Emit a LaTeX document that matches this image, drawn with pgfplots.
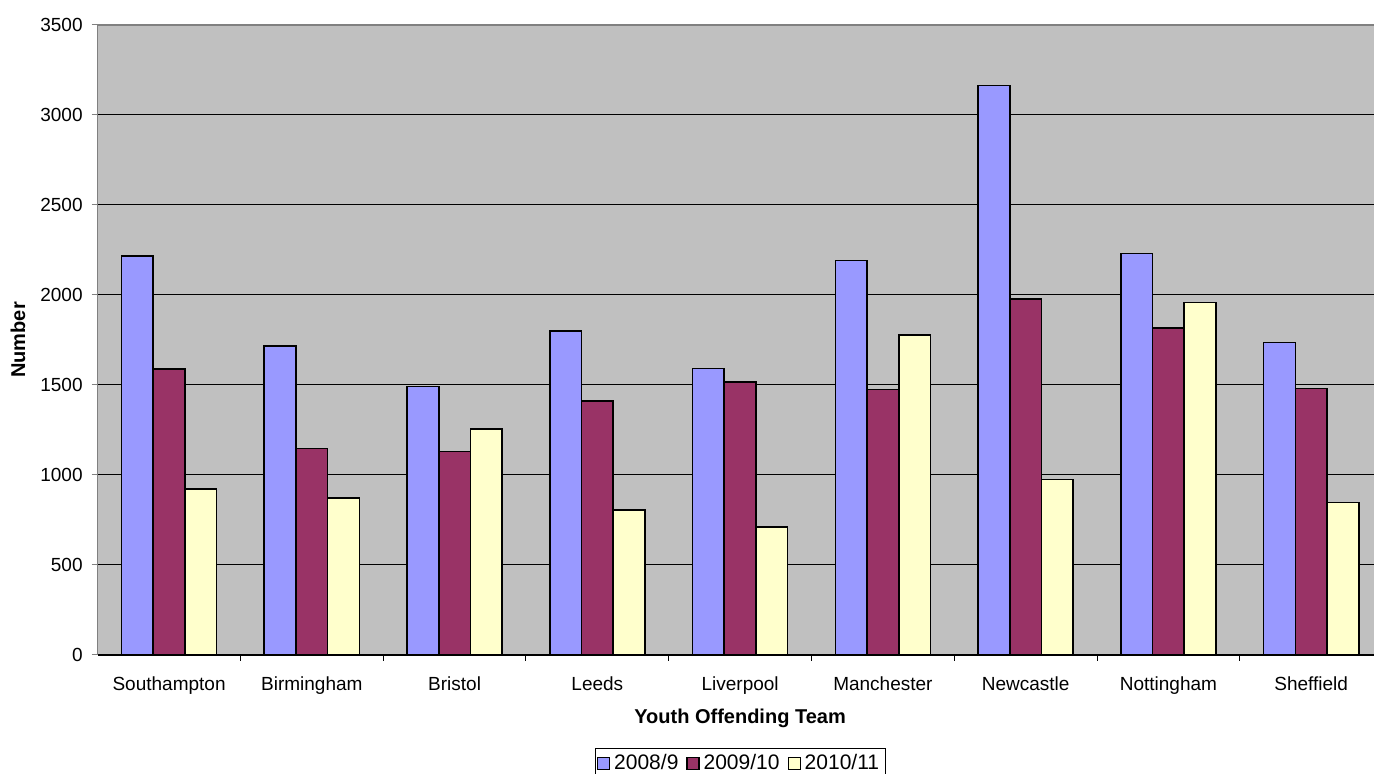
\documentclass[border=0pt]{standalone}
\usepackage{pgfplots}
\pgfplotsset{compat=1.18}
\usepackage{fontspec}
\setmainfont{Liberation Sans}

\definecolor{bgray}{HTML}{C0C0C0}
\definecolor{framegray}{HTML}{808080}
\definecolor{sblue}{HTML}{9999FF}
\definecolor{smaroon}{HTML}{993366}
\definecolor{syellow}{HTML}{FFFFCC}

\begin{document}
\begin{tikzpicture}
\path[use as bounding box] (-48.85pt,-59.5pt) rectangle (638.2pt,327.5pt);
\begin{axis}[
    scale only axis,
    width=638.2pt,
    height=315pt,
    ybar=0pt,
    bar width=15.85pt,
    xmin=-0.5, xmax=8.44,
    ymin=0, ymax=3500,
    ytick={0,500,...,3500},
    xtick={0,...,8},
    xticklabels={Southampton,Birmingham,Bristol,Leeds,Liverpool,Manchester,Newcastle,Nottingham,Sheffield},
    minor xtick={0.5,1.5,...,7.5},
    major x tick style={draw=none},
    minor x tick style={black, line width=0.5pt},
    minor tick length=3pt,
    major tick length=3pt,
    tick align=outside,
    y tick style={framegray, line width=0.5pt},
    axis x line*=bottom,
    axis y line*=left,
    x axis line style={black, line width=0.6pt, -},
    y axis line style={framegray, line width=0.6pt, -},
    axis background/.style={fill=bgray},
    ymajorgrids=true,
    grid style={black, line width=0.5pt},
    /pgf/number format/assume math mode=true,
    /pgf/number format/1000 sep={},
    ticklabel style={font=\fontsize{9.5}{11}\selectfont},
    xticklabel style={yshift=-4.5pt},
    yticklabel style={xshift=-1pt},
    xlabel={Youth Offending Team},
    ylabel={Number},
    xlabel style={font=\fontsize{10}{12}\selectfont\bfseries, at={(axis description cs:0.5033,0)}, anchor=center, yshift=-31.5pt},
    ylabel style={font=\fontsize{10}{12}\selectfont\bfseries, at={(axis description cs:-0.0624,0.5)}, anchor=center},
    legend columns=3,
    legend style={at={(axis description cs:0.5033,-0.1476)}, anchor=north,
        draw=black, line width=0.5pt, fill=white,
        font=\fontsize{10.5}{12}\selectfont,
        inner sep=1pt,
        /tikz/every even column/.append style={column sep=2pt}},
    legend image code/.code={\draw[#1, line width=0.6pt] (0pt,-3pt) rectangle (6pt,3pt);},
    every axis plot/.append style={draw=black, line width=0.8pt},
]
\addplot[fill=sblue] coordinates {(0,2217)(1,1715)(2,1491)(3,1800)(4,1591)(5,2191)(6,3163)(7,2231)(8,1737)};
\addplot[fill=smaroon] coordinates {(0,1589)(1,1148)(2,1131)(3,1411)(4,1515)(5,1474)(6,1978)(7,1817)(8,1480)};
\addplot[fill=syellow] coordinates {(0,922)(1,872)(2,1256)(3,806)(4,711)(5,1778)(6,974)(7,1959)(8,846)};
\legend{2008/9,2009/10,2010/11}
\draw[framegray, line width=0.6pt] (rel axis cs:0,1) -- (rel axis cs:1,1);
\end{axis}
\end{tikzpicture}
\end{document}
